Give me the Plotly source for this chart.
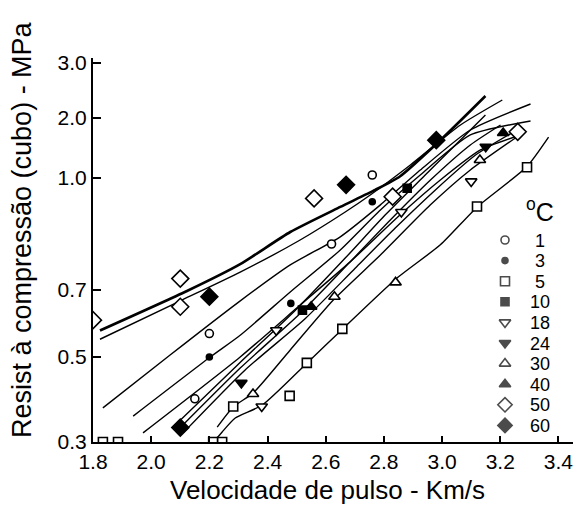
import numpy as np
import plotly.graph_objects as go

# ---------------- axis definitions ----------------
X_TICKS = [1.8, 2.0, 2.2, 2.4, 2.6, 2.8, 3.0, 3.2, 3.4]
X_TICK_TEXT = ["1.8", "2.0", "2.2", "2.4", "2.6", "2.8", "3.0", "3.2", "3.4"]
# printed (non-uniform) strength scale: MPa value -> axis position
Y_SCALE_MPA = [0.3, 0.4, 0.5, 0.7, 0.8, 0.9, 1.0, 2.0, 3.0]
Y_SCALE_POS = [0, 48, 85, 152, 190, 230, 264, 324, 379]
Y_LABELLED = [0.3, 0.5, 0.7, 1.0, 2.0, 3.0]
Y_LABEL_TEXT = ["0.3", "0.5", "0.7", "1.0", "2.0", "3.0"]
Y_MINOR = [0.4, 0.8, 0.9]

# ---------------- data ----------------
TEMPS = ["1", "3", "5", "10", "18", "24", "30", "40", "50", "60"]

# regression curves (pulse velocity km/s, strength MPa), one per temperature
line_1_x = [1.834, 2.065, 2.296, 2.478, 2.650, 2.788, 2.925, 3.097, 3.304]
line_1_y = [0.371, 0.506, 0.661, 0.766, 0.838, 0.921, 1.133, 1.800, 2.255]
line_3_x = [1.938, 2.203, 2.306, 2.478, 2.650, 2.788, 2.925, 3.097, 3.304]
line_3_y = [0.354, 0.500, 0.565, 0.694, 0.805, 0.906, 1.050, 1.717, 1.950]
line_5_x = [2.220, 2.244, 2.289, 2.382, 2.536, 2.660, 2.846, 2.994, 3.121, 3.290, 3.366]
line_5_y = [0.304, 0.321, 0.350, 0.377, 0.484, 0.585, 0.732, 0.818, 0.915, 1.183, 1.683]
line_10_x = [2.110, 2.323, 2.530, 2.702, 2.839, 2.977, 3.115, 3.269]
line_10_y = [0.319, 0.465, 0.615, 0.758, 0.860, 0.965, 1.383, 1.833]
line_18_x = [2.082, 2.296, 2.495, 2.667, 2.805, 2.942, 3.063, 3.149]
line_18_y = [0.335, 0.478, 0.639, 0.784, 0.893, 1.050, 1.633, 2.055]
line_24_x = [2.092, 2.306, 2.512, 2.684, 2.822, 2.960, 3.097, 3.201]
line_24_y = [0.325, 0.470, 0.630, 0.774, 0.880, 0.994, 1.550, 1.883]
line_30_x = [2.227, 2.282, 2.351, 2.478, 2.626, 2.788, 2.960, 3.097, 3.252]
line_30_y = [0.331, 0.373, 0.403, 0.521, 0.670, 0.792, 0.921, 1.133, 1.667]
line_40_x = [1.972, 2.306, 2.512, 2.684, 2.856, 2.994, 3.132, 3.269]
line_40_y = [0.319, 0.500, 0.655, 0.774, 0.893, 0.994, 1.467, 1.717]
line_50_x = [1.824, 2.123, 2.306, 2.478, 2.650, 2.770, 2.856, 2.994, 3.149]
line_50_y = [0.579, 0.697, 0.768, 0.850, 0.915, 0.965, 1.030, 1.630, 2.400]
line_60_x = [1.824, 2.106, 2.306, 2.512, 2.667, 2.753, 2.891, 3.063, 3.207]
line_60_y = [0.553, 0.670, 0.747, 0.830, 0.900, 0.950, 1.217, 1.883, 2.327]

# measured points
pts_1_x = [2.15, 2.20, 2.62, 2.76]
pts_1_y = [0.39, 0.57, 0.82, 1.05]
pts_3_x = [2.20, 2.48, 2.76]
pts_3_y = [0.50, 0.66, 0.93]
pts_5_x = [1.834, 1.886, 2.213, 2.244, 2.282, 2.476, 2.535, 2.657, 3.120, 3.292]
pts_5_y = [0.300, 0.300, 0.300, 0.300, 0.374, 0.396, 0.484, 0.584, 0.916, 1.180]
pts_10_x = [2.52, 2.88]
pts_10_y = [0.64, 0.97]
pts_18_x = [2.38, 2.43, 2.86, 3.10]
pts_18_y = [0.374, 0.58, 0.90, 0.99]
pts_24_x = [2.31, 3.15]
pts_24_y = [0.43, 1.52]
pts_30_x = [2.35, 2.63, 2.84, 3.13]
pts_30_y = [0.40, 0.68, 0.72, 1.30]
pts_40_x = [2.55, 3.21]
pts_40_y = [0.65, 1.75]
pts_50_x = [1.80, 2.10, 2.10, 2.56, 2.83, 3.26]
pts_50_y = [0.61, 0.73, 0.65, 0.94, 0.945, 1.77]
pts_60_x = [2.20, 2.67, 2.10, 2.98]
pts_60_y = [0.68, 0.98, 0.33, 1.63]

LINES = {
    "1": (line_1_x, line_1_y), "3": (line_3_x, line_3_y), "5": (line_5_x, line_5_y),
    "10": (line_10_x, line_10_y), "18": (line_18_x, line_18_y), "24": (line_24_x, line_24_y),
    "30": (line_30_x, line_30_y), "40": (line_40_x, line_40_y), "50": (line_50_x, line_50_y),
    "60": (line_60_x, line_60_y),
}
POINTS = {
    "1": (pts_1_x, pts_1_y), "3": (pts_3_x, pts_3_y), "5": (pts_5_x, pts_5_y),
    "10": (pts_10_x, pts_10_y), "18": (pts_18_x, pts_18_y), "24": (pts_24_x, pts_24_y),
    "30": (pts_30_x, pts_30_y), "40": (pts_40_x, pts_40_y), "50": (pts_50_x, pts_50_y),
    "60": (pts_60_x, pts_60_y),
}

# ---------------- styles ----------------
SYMBOL = {"1": "circle", "3": "circle", "5": "square", "10": "square",
          "18": "triangle-down", "24": "triangle-down", "30": "triangle-up",
          "40": "triangle-up", "50": "diamond", "60": "diamond"}
FILLED = {"1": False, "3": True, "5": False, "10": True, "18": False, "24": True,
          "30": False, "40": True, "50": False, "60": True}
SIZE = {"1": 8, "3": 6, "5": 9, "10": 8, "18": 10, "24": 10, "30": 10, "40": 10,
        "50": 13, "60": 13}
LINE_W = {t: 1.4 for t in TEMPS}
LINE_W["50"] = 2.6

FONT = "Liberation Sans, Arial, Helvetica, sans-serif"


def ymap(v):
    return np.interp(np.asarray(v, dtype=float), Y_SCALE_MPA, Y_SCALE_POS)


fig = go.Figure()

for t in TEMPS:
    lx, ly = LINES[t]
    fig.add_trace(go.Scatter(x=lx, y=ymap(ly), mode="lines",
                             line=dict(color="black", width=LINE_W[t], shape="spline", smoothing=0.6),
                             showlegend=False, hoverinfo="skip"))

for t in TEMPS:
    px_, py_ = POINTS[t]
    fig.add_trace(go.Scatter(
        x=px_, y=ymap(py_), mode="markers", showlegend=False,
        marker=dict(symbol=SYMBOL[t], size=SIZE[t],
                    color="black" if FILLED[t] else "white",
                    line=dict(color="black", width=1.6))))

# ---------------- manual legend (overlay axes in plot fractions) ----------------
PLOT_TOP_PX, PLOT_BOTTOM_PX, PLOT_LEFT_PX, PLOT_RIGHT_PX = 58, 442, 93, 573
ROW0_PX, ROW_STEP_PX, MARK_X_PX, TEXT_X_PX = 240, 20.6, 505, 540


def fy(px):
    return (PLOT_BOTTOM_PX - px) / (PLOT_BOTTOM_PX - PLOT_TOP_PX)


def fx(px):
    return (px - PLOT_LEFT_PX) / (PLOT_RIGHT_PX - PLOT_LEFT_PX)


rows = np.arange(len(TEMPS))
leg_y = [fy(ROW0_PX + ROW_STEP_PX * i) for i in rows]
fig.add_trace(go.Scatter(
    x=[fx(MARK_X_PX)] * len(TEMPS), y=leg_y, xaxis="x2", yaxis="y2",
    mode="markers", showlegend=False, hoverinfo="skip",
    marker=dict(symbol=[SYMBOL[t] for t in TEMPS],
                size=[min(SIZE[t], 11) for t in TEMPS],
                color=["black" if FILLED[t] else "white" for t in TEMPS],
                line=dict(color="black", width=1.6))))
fig.add_trace(go.Scatter(
    x=[fx(TEXT_X_PX)] * len(TEMPS), y=[fy(ROW0_PX + ROW_STEP_PX * i + 2) for i in rows],
    xaxis="x2", yaxis="y2", mode="text", text=TEMPS, textposition="middle center",
    textfont=dict(family=FONT, size=18, color="black"), showlegend=False, hoverinfo="skip"))

fig.add_annotation(x=fx(540), y=fy(210), xref="paper", yref="paper",
                   xanchor="center", yanchor="middle",
                   text="<sup>o</sup>C", showarrow=False,
                   font=dict(family=FONT, size=25, color="black"))

# axis titles
fig.add_annotation(x=fx(327), y=fy(490), xref="paper", yref="paper",
                   xanchor="center", yanchor="middle",
                   text="Velocidade de pulso - Km/s", showarrow=False,
                   font=dict(family=FONT, size=26, color="black"))
fig.add_annotation(x=fx(22), y=fy(230), xref="paper", yref="paper",
                   xanchor="center", yanchor="middle",
                   text="Resist à compressão (cubo) - MPa", showarrow=False, textangle=-90,
                   font=dict(family=FONT, size=27, color="black"))

fig.update_layout(
    width=582, height=509,
    margin=dict(l=PLOT_LEFT_PX, r=582 - PLOT_RIGHT_PX, t=PLOT_TOP_PX, b=509 - PLOT_BOTTOM_PX),
    paper_bgcolor="white", plot_bgcolor="white",
    font=dict(family=FONT, size=21, color="black"),
    xaxis=dict(range=[1.8, 3.45], tickmode="array", tickvals=X_TICKS, ticktext=X_TICK_TEXT,
               showgrid=False, zeroline=False, showline=True, linecolor="black", linewidth=2,
               ticks="inside", ticklen=6, tickwidth=2, tickcolor="black",
               tickfont=dict(family=FONT, size=21)),
    yaxis=dict(range=[0, 384], tickmode="array", tickvals=list(ymap(Y_LABELLED)),
               ticktext=Y_LABEL_TEXT,
               showgrid=False, zeroline=False, showline=True, linecolor="black", linewidth=2,
               ticks="inside", ticklen=8, tickwidth=2, tickcolor="black",
               tickfont=dict(family=FONT, size=21)),
    # unlabelled intermediate ticks of the printed scale
    yaxis3=dict(overlaying="y", anchor="x", side="left", range=[0, 384],
                tickmode="array", tickvals=list(ymap(Y_MINOR)), showticklabels=False,
                ticks="inside", ticklen=8, tickwidth=2, tickcolor="black",
                showgrid=False, zeroline=False, showline=False),
    xaxis2=dict(overlaying="x", range=[0, 1], visible=False),
    yaxis2=dict(overlaying="y", range=[0, 1], visible=False),
)

fig.write_html("out.html")
